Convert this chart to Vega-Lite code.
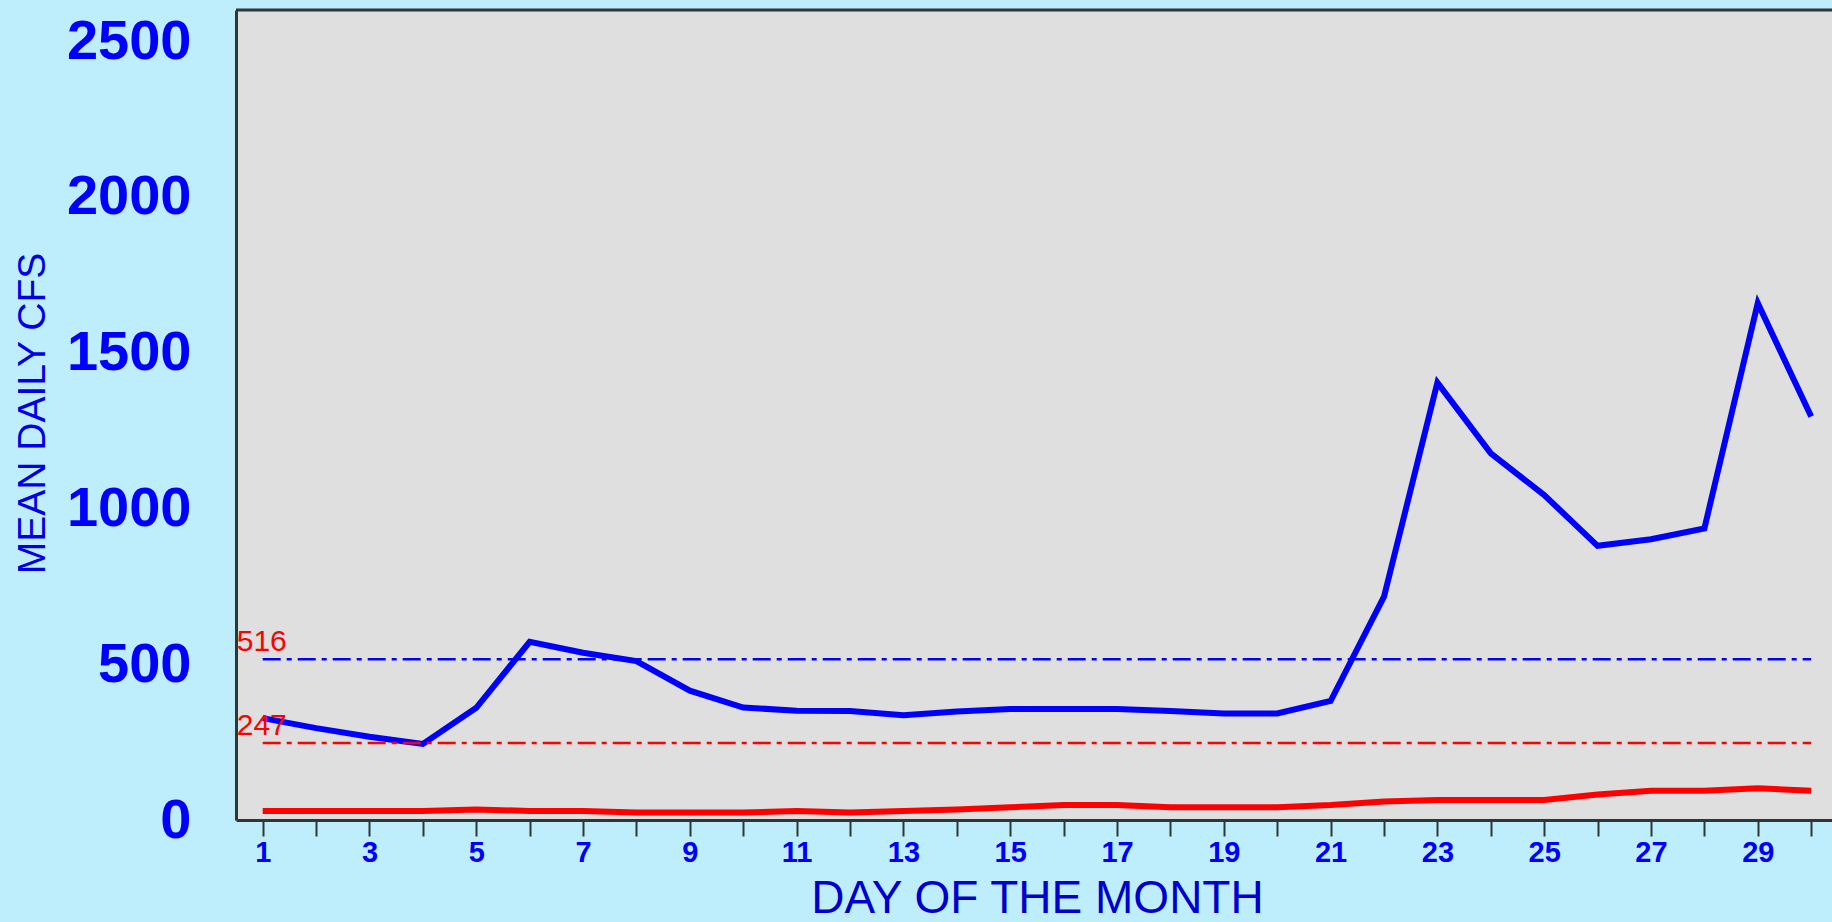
{
  "$schema": "https://vega.github.io/schema/vega-lite/v6.json",
  "width": 1596,
  "height": 810,
  "autosize": {"type": "none"},
  "padding": {"left": 236, "top": 10, "right": 0, "bottom": 102},
  "background": "#BEEEFC",
  "config": {
    "view": {"fill": "#DFDFDF", "stroke": null},
    "font": "Liberation Sans"
  },
  "layer": [
    {
      "data": {
        "values": [
          {"day": 1, "series": "upper", "cfs": 327},
          {"day": 2, "series": "upper", "cfs": 295},
          {"day": 3, "series": "upper", "cfs": 267},
          {"day": 4, "series": "upper", "cfs": 244},
          {"day": 5, "series": "upper", "cfs": 360},
          {"day": 6, "series": "upper", "cfs": 572},
          {"day": 7, "series": "upper", "cfs": 537},
          {"day": 8, "series": "upper", "cfs": 510},
          {"day": 9, "series": "upper", "cfs": 415},
          {"day": 10, "series": "upper", "cfs": 361},
          {"day": 11, "series": "upper", "cfs": 351},
          {"day": 12, "series": "upper", "cfs": 350},
          {"day": 13, "series": "upper", "cfs": 336},
          {"day": 14, "series": "upper", "cfs": 348},
          {"day": 15, "series": "upper", "cfs": 356},
          {"day": 16, "series": "upper", "cfs": 356},
          {"day": 17, "series": "upper", "cfs": 356},
          {"day": 18, "series": "upper", "cfs": 350},
          {"day": 19, "series": "upper", "cfs": 342},
          {"day": 20, "series": "upper", "cfs": 342},
          {"day": 21, "series": "upper", "cfs": 382},
          {"day": 22, "series": "upper", "cfs": 717},
          {"day": 23, "series": "upper", "cfs": 1404},
          {"day": 24, "series": "upper", "cfs": 1177},
          {"day": 25, "series": "upper", "cfs": 1043},
          {"day": 26, "series": "upper", "cfs": 880},
          {"day": 27, "series": "upper", "cfs": 901},
          {"day": 28, "series": "upper", "cfs": 936},
          {"day": 29, "series": "upper", "cfs": 1659},
          {"day": 30, "series": "upper", "cfs": 1295},
          {"day": 1, "series": "lower", "cfs": 29},
          {"day": 2, "series": "lower", "cfs": 29},
          {"day": 3, "series": "lower", "cfs": 29},
          {"day": 4, "series": "lower", "cfs": 29},
          {"day": 5, "series": "lower", "cfs": 34},
          {"day": 6, "series": "lower", "cfs": 29},
          {"day": 7, "series": "lower", "cfs": 29},
          {"day": 8, "series": "lower", "cfs": 24},
          {"day": 9, "series": "lower", "cfs": 24},
          {"day": 10, "series": "lower", "cfs": 24},
          {"day": 11, "series": "lower", "cfs": 29},
          {"day": 12, "series": "lower", "cfs": 24},
          {"day": 13, "series": "lower", "cfs": 29},
          {"day": 14, "series": "lower", "cfs": 34},
          {"day": 15, "series": "lower", "cfs": 41},
          {"day": 16, "series": "lower", "cfs": 48},
          {"day": 17, "series": "lower", "cfs": 48},
          {"day": 18, "series": "lower", "cfs": 41},
          {"day": 19, "series": "lower", "cfs": 41},
          {"day": 20, "series": "lower", "cfs": 41},
          {"day": 21, "series": "lower", "cfs": 48},
          {"day": 22, "series": "lower", "cfs": 59},
          {"day": 23, "series": "lower", "cfs": 64},
          {"day": 24, "series": "lower", "cfs": 64},
          {"day": 25, "series": "lower", "cfs": 64},
          {"day": 26, "series": "lower", "cfs": 82},
          {"day": 27, "series": "lower", "cfs": 94},
          {"day": 28, "series": "lower", "cfs": 94},
          {"day": 29, "series": "lower", "cfs": 102},
          {"day": 30, "series": "lower", "cfs": 94}
        ]
      },
      "mark": {"type": "line", "strokeWidth": 6, "strokeJoin": "miter", "strokeCap": "butt"},
      "encoding": {
        "x": {
          "field": "day",
          "type": "quantitative",
          "title": "DAY OF THE MONTH",
          "scale": {"domain": [0.5, 30.39], "nice": false, "zero": false},
          "axis": {
            "values": [1, 2, 3, 4, 5, 6, 7, 8, 9, 10, 11, 12, 13, 14, 15, 16, 17, 18, 19, 20, 21, 22, 23, 24, 25, 26, 27, 28, 29, 30],
            "labelExpr": "datum.value % 2 == 1 ? datum.label : ''",
            "grid": false,
            "domain": true,
            "domainColor": "#2F3636",
            "domainWidth": 3,
            "ticks": true,
            "tickColor": "#2F3636",
            "tickWidth": 2,
            "tickSize": 16,
            "labelFontSize": 29,
            "labelFontWeight": "bold",
            "labelColor": "#0000FF",
            "labelPadding": 2,
            "labelFont": "Liberation Sans",
            "labelOverlap": false,
            "labelFlush": false,
            "titleFontSize": 46,
            "titleFontWeight": "normal",
            "titleColor": "#0000CC",
            "titleFont": "Liberation Sans",
            "titleX": 801,
            "titleY": 92,
            "titleAlign": "center",
            "titleBaseline": "alphabetic",
            "titleAnchor": null
          }
        },
        "y": {
          "field": "cfs",
          "type": "quantitative",
          "title": "MEAN DAILY CFS",
          "scale": {"domain": [0, 2600], "nice": false},
          "axis": {
            "values": [0, 500, 1000, 1500, 2000, 2500],
            "format": "d",
            "grid": false,
            "ticks": false,
            "domain": true,
            "domainColor": "#2F3636",
            "domainWidth": 3,
            "labelFontSize": 56,
            "labelFontWeight": "bold",
            "labelColor": "#0000FF",
            "labelFont": "Liberation Sans",
            "labelPadding": 45,
            "labelOverlap": false,
            "labelFlush": false,
            "labelBaseline": "middle",
            "titleFontSize": 39,
            "titleFontWeight": "normal",
            "titleColor": "#0000E6",
            "titleFont": "Liberation Sans",
            "titleAngle": -90,
            "titleX": -204,
            "titleY": 403,
            "titleAlign": "center",
            "titleBaseline": "middle",
            "titleAnchor": null
          }
        },
        "color": {
          "field": "series",
          "type": "nominal",
          "scale": {"domain": ["upper", "lower"], "range": ["#0000FF", "#FF0000"]},
          "legend": null
        },
        "detail": {"field": "series"}
      }
    },
    {
      "data": {
        "values": [
          {"label": "516", "value": 516, "from": 1, "to": 30, "series": "upper"},
          {"label": "247", "value": 247, "from": 1, "to": 30, "series": "lower"}
        ]
      },
      "mark": {"type": "rule", "strokeWidth": 2.5, "strokeDash": [18, 6, 5, 6]},
      "encoding": {
        "x": {"field": "from", "type": "quantitative", "title": "DAY OF THE MONTH"},
        "x2": {"field": "to"},
        "y": {"field": "value", "type": "quantitative", "title": "MEAN DAILY CFS"},
        "color": {"field": "series", "type": "nominal", "legend": null}
      }
    },
    {
      "data": {
        "values": [
          {"label": "516", "value": 516, "from": 1, "to": 30, "series": "upper"},
          {"label": "247", "value": 247, "from": 1, "to": 30, "series": "lower"}
        ]
      },
      "mark": {"type": "text", "align": "left", "baseline": "alphabetic", "dx": -26, "dy": -8, "fontSize": 30, "color": "#FF0000", "font": "Liberation Sans"},
      "encoding": {
        "x": {"field": "from", "type": "quantitative", "title": "DAY OF THE MONTH"},
        "y": {"field": "value", "type": "quantitative", "title": "MEAN DAILY CFS"},
        "text": {"field": "label"}
      }
    },
    {
      "data": {"values": [{}]},
      "mark": {"type": "rule", "color": "#2F3636", "strokeWidth": 3},
      "encoding": {
        "y": {"datum": 2600, "type": "quantitative", "title": "MEAN DAILY CFS"}
      }
    }
  ]
}
